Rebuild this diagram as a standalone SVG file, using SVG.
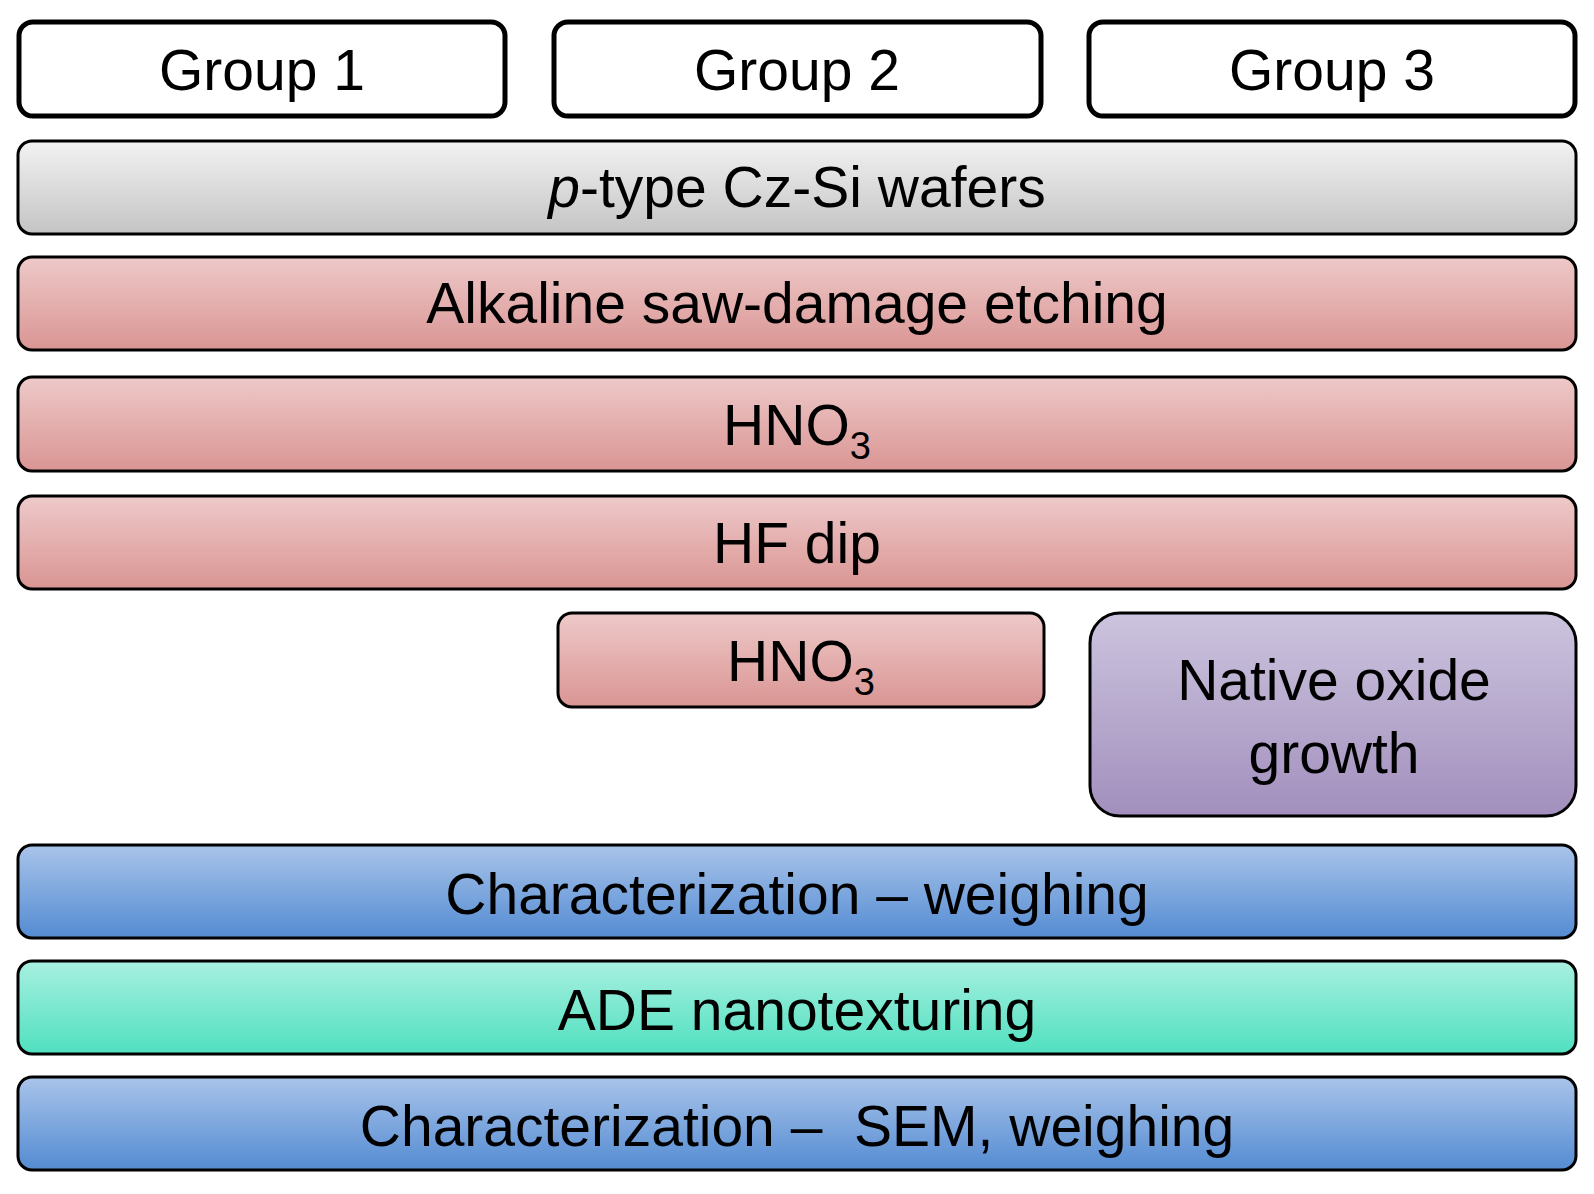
<svg xmlns="http://www.w3.org/2000/svg" width="1594" height="1194" viewBox="0 0 1594 1194">
<defs>
<linearGradient id="gGray" x1="0" y1="0" x2="0" y2="1"><stop offset="0" stop-color="#f2f2f2"/><stop offset="1" stop-color="#c4c4c4"/></linearGradient>
<linearGradient id="gRed" x1="0" y1="0" x2="0" y2="1"><stop offset="0" stop-color="#eec9c9"/><stop offset="1" stop-color="#d99593"/></linearGradient>
<linearGradient id="gPur" x1="0" y1="0" x2="0" y2="1"><stop offset="0" stop-color="#ccc4de"/><stop offset="1" stop-color="#a28fbd"/></linearGradient>
<linearGradient id="gBlue" x1="0" y1="0" x2="0" y2="1"><stop offset="0" stop-color="#a9c4ea"/><stop offset="1" stop-color="#548bd2"/></linearGradient>
<linearGradient id="gGreen" x1="0" y1="0" x2="0" y2="1"><stop offset="0" stop-color="#a8f0e0"/><stop offset="1" stop-color="#4fe0bf"/></linearGradient>
</defs>
<style>
rect{stroke:#000;stroke-width:3}
.g{fill:#fff;stroke-width:5}
text{font-family:"Liberation Sans",Arial,sans-serif;font-size:57px;text-anchor:middle;fill:#000}
</style>
<g id="group1"><rect class="g" x="19" y="22" width="486" height="94" rx="14"/><text x="262" y="90">Group 1</text></g>
<g id="group2"><rect class="g" x="554" y="22" width="487" height="94" rx="14"/><text x="797" y="90">Group 2</text></g>
<g id="group3"><rect class="g" x="1089" y="22" width="486" height="94" rx="14"/><text x="1332" y="90">Group 3</text></g>
<g id="wafers"><rect x="18" y="141" width="1558" height="93" rx="14" fill="url(#gGray)"/><text x="797" y="207"><tspan font-style="italic">p</tspan>-type Cz-Si wafers</text></g>
<g id="alkaline"><rect x="18" y="257" width="1558" height="93" rx="14" fill="url(#gRed)"/><text x="797" y="323">Alkaline saw-damage etching</text></g>
<g id="hno3a"><rect x="18" y="377" width="1558" height="94" rx="14" fill="url(#gRed)"/><text x="797" y="445">HNO<tspan font-size="38" dy="14">3</tspan></text></g>
<g id="hf"><rect x="18" y="496" width="1558" height="93" rx="14" fill="url(#gRed)"/><text x="797" y="563">HF dip</text></g>
<g id="hno3b"><rect x="558" y="613" width="486" height="94" rx="14" fill="url(#gRed)"/><text x="801" y="681">HNO<tspan font-size="38" dy="14">3</tspan></text></g>
<g id="native"><rect x="1090" y="613" width="486" height="203" rx="30" fill="url(#gPur)"/><text x="1334" y="700">Native oxide</text><text x="1334" y="773">growth</text></g>
<g id="char1"><rect x="18" y="845" width="1558" height="93" rx="14" fill="url(#gBlue)"/><text x="797" y="914">Characterization – weighing</text></g>
<g id="ade"><rect x="18" y="961" width="1558" height="93" rx="14" fill="url(#gGreen)"/><text x="797" y="1030">ADE nanotexturing</text></g>
<g id="char2"><rect x="18" y="1077" width="1558" height="93" rx="14" fill="url(#gBlue)"/><text x="797" y="1146" xml:space="preserve">Characterization –  SEM, weighing</text></g>
<g id="connectors"/>
</svg>
